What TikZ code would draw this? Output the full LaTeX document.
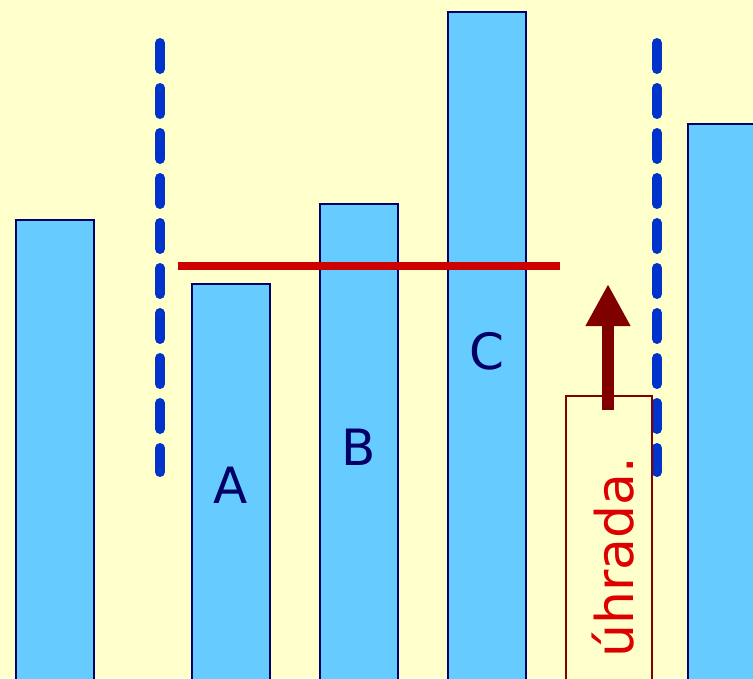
\documentclass[tikz,border=0pt]{standalone}
\usepackage{fontspec}
\setmainfont{DejaVu Sans}
\usetikzlibrary{arrows.meta}
\definecolor{bgyellow}{HTML}{FFFFCC}
\definecolor{barblue}{HTML}{66CCFF}
\definecolor{navy}{HTML}{000066}
\definecolor{dashblue}{HTML}{0033CC}
\definecolor{linered}{HTML}{CC0000}
\definecolor{darkred}{HTML}{800000}
\definecolor{textred}{HTML}{DD0000}
\tikzset{
  bar/.style={fill=barblue, draw=navy, line width=2.5pt},
  sep/.style={dashblue, line width=10pt, line cap=round, dash pattern=on 26pt off 19pt},
  barlabel/.style={text=navy, font=\fontsize{50}{50}\selectfont, anchor=base, inner sep=0pt},
}
\begin{document}
\begin{tikzpicture}[x=1pt,y=-1pt]
\fill[bgyellow] (0,0) rectangle (753,678);
\useasboundingbox (0,0) rectangle (753,678);
\clip (0,0) rectangle (753,678);
% bars
\draw[bar] (16,700) rectangle (94,220);
\draw[bar] (192,700) rectangle (270,284);
\draw[bar] (320,700) rectangle (398,204);
\draw[bar] (448,700) rectangle (526,12);
\draw[bar] (688,700) rectangle (770,124);
% labels
\node[barlabel] (la) at (231,503) {A};
\node[barlabel] (lb) at (359,465) {B};
\node[barlabel] (lc) at (487,369) {C};
% dashed separators
\coordinate (s1a) at (160,43);
\coordinate (s1b) at (160,472);
\coordinate (s2a) at (657,43);
\coordinate (s2b) at (657,472);
\draw[sep] (s1a) -- (s1b);
\draw[sep] (s2a) -- (s2b);
% red level line
\coordinate (r1) at (178,266);
\coordinate (r2) at (560,266);
\draw[linered, line width=8pt] (r1) -- (r2);
% box with text
\draw[fill=bgyellow, draw=darkred, line width=2pt] (566,700) rectangle (652,396);
\node[rotate=90, anchor=base west, inner sep=0pt, text=textred, font=\fontsize{52}{52}\selectfont] (uh) at (633,658) {úhrada.};
% arrow
\coordinate (a1) at (608,410);
\coordinate (a2) at (608,284);
\draw[darkred, line width=12pt, -{Triangle[width=42pt,length=42pt]}] (a1) -- (a2);
\end{tikzpicture}
\end{document}
